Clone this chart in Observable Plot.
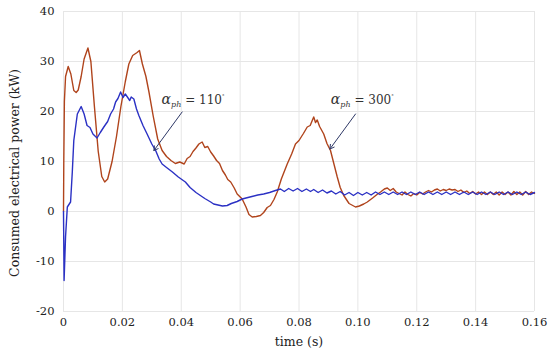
<!DOCTYPE html>
<html>
<head>
<meta charset="utf-8">
<script src="https://cdn.jsdelivr.net/npm/d3@7"></script>
<script src="https://cdn.jsdelivr.net/npm/@observablehq/plot@0.6"></script>
<style>
  html, body { margin: 0; padding: 0; background: #fff; }
  #chart svg, #chart svg text { font-family: "DejaVu Serif", serif !important; }
</style>
</head>
<body>
<div id="chart"></div>
<script>
// ---- Data ----
const timeRed = [0,0.0001,0.0003,0.0007,0.0016,0.0025,0.0035,0.0043,0.005,0.006,0.007,0.0083,0.0093,0.0105,0.0118,0.013,0.014,0.015,0.0165,0.018,0.0195,0.021,0.0222,0.0235,0.025,0.0258,0.0268,0.028,0.029,0.0305,0.032,0.0335,0.035,0.0365,0.038,0.0395,0.041,0.042,0.043,0.044,0.045,0.046,0.0471,0.048,0.049,0.050,0.051,0.052,0.053,0.054,0.055,0.0558,0.0568,0.058,0.059,0.0607,0.062,0.063,0.0641,0.0655,0.0669,0.068,0.0692,0.0703,0.0715,0.0726,0.074,0.076,0.0775,0.0788,0.080,0.0815,0.0828,0.0838,0.0845,0.085,0.0856,0.0862,0.087,0.0884,0.0895,0.0907,0.092,0.093,0.094,0.0952,0.097,0.0992,0.1005,0.102,0.1032,0.105,0.1065,0.1077,0.109,0.110,0.111,0.112,0.113,0.114,0.115,0.116,0.117,0.118,0.119,0.120,0.121,0.122,0.123,0.124,0.125,0.126,0.127,0.128,0.129,0.130,0.131,0.132,0.133,0.134,0.135,0.136,0.137,0.138,0.139,0.140,0.141,0.142,0.143,0.144,0.145,0.146,0.147,0.148,0.149,0.150,0.151,0.152,0.153,0.154,0.155,0.156,0.157,0.158,0.159,0.160];
const powerRed = [0,10,22,27,29,27.5,24.2,23.8,24.3,27,30.5,32.7,30,21,12,7,5.9,6.5,10,15,21,26,29.5,31.2,31.8,32.2,29.5,27,24,19,14.5,12.2,11,10.2,9.6,9.9,9.5,10.6,11,12,12.7,13.5,13.9,12.8,13,11.9,11.1,10.2,9.6,8.2,7.3,6.4,5.9,4.7,3.5,2.5,0.9,-0.6,-1.1,-1.0,-0.8,-0.2,0.8,1.2,2.4,3.9,6.5,9.5,11.5,13.5,14.2,15.6,16.9,17.2,18.2,18.9,17.8,18.3,17,15.5,13.6,12.2,9.2,6.9,4.8,3.2,1.6,0.9,1.1,1.5,1.9,2.7,3.4,3.9,4.5,4.7,4.2,4.6,3.9,3.6,3.3,3.9,3.4,3.1,3.6,3.3,3.8,3.5,3.9,4.2,3.9,4.3,4.5,4.1,4.4,4.2,4.5,4.3,4.4,4.0,4.3,3.8,4.1,3.6,4.0,3.5,3.9,3.4,3.9,3.4,3.9,3.4,3.9,3.3,3.9,3.4,3.9,3.3,4.0,3.4,3.9,3.3,4.0,3.4,3.9,3.6];

const timeBlue = [0,0.0002,0.0007,0.0013,0.0024,0.003,0.0035,0.0047,0.006,0.007,0.008,0.009,0.010,0.0114,0.0125,0.0137,0.015,0.016,0.017,0.0177,0.0185,0.0194,0.0202,0.021,0.0217,0.0225,0.023,0.0239,0.0248,0.0256,0.027,0.0284,0.030,0.0313,0.0325,0.0335,0.035,0.037,0.039,0.0414,0.043,0.045,0.0465,0.048,0.050,0.051,0.0525,0.054,0.0556,0.057,0.059,0.0607,0.062,0.064,0.066,0.068,0.070,0.072,0.0737,0.075,0.0765,0.078,0.0795,0.081,0.0825,0.0839,0.085,0.0865,0.088,0.0895,0.091,0.0925,0.094,0.0955,0.097,0.0985,0.100,0.1015,0.103,0.1045,0.106,0.1075,0.109,0.1105,0.112,0.1135,0.115,0.1165,0.118,0.1195,0.121,0.1225,0.124,0.1255,0.127,0.1285,0.130,0.1315,0.133,0.1345,0.136,0.1375,0.139,0.1405,0.142,0.1435,0.145,0.1465,0.148,0.1495,0.151,0.1525,0.154,0.1555,0.157,0.1585,0.160];
const powerBlue = [0,-13.8,-5,0.9,1.9,8,14.2,19.5,21,19.5,17.2,16.8,15.5,14.7,15.8,16.9,18,19.5,20.5,21.9,22.6,23.9,22.8,23.5,22.9,22.2,22.9,22.5,20.5,19.2,17.2,15.5,13.5,12.2,10.5,9.5,8.8,7.9,6.9,5.9,4.8,3.8,3.2,2.6,1.9,1.5,1.3,1.1,1.2,1.6,2.0,2.5,2.7,3.0,3.3,3.5,3.8,4.2,4.5,4.0,4.6,4.1,4.6,4.0,4.5,4.0,4.4,3.8,4.3,3.7,4.1,3.5,4.0,3.3,3.8,3.2,3.8,3.3,3.8,3.3,3.9,3.4,3.9,3.4,3.9,3.4,3.9,3.4,3.9,3.4,3.9,3.4,3.9,3.4,3.9,3.4,3.9,3.4,3.9,3.4,3.9,3.4,3.9,3.4,3.9,3.4,3.9,3.4,3.9,3.4,3.9,3.4,3.9,3.4,3.9,3.4,3.8];

const xTicks = [0,0.02,0.04,0.06,0.08,0.10,0.12,0.14,0.16];
const xTickLabels = ["0","0.02","0.04","0.06","0.08","0.10","0.12","0.14","0.16"];
const yTicks = [-20,-10,0,10,20,30,40];
const yTickLabels = ["-20","-10","0","10","20","30","40"];

const annLabels = ["αph = 110°", "αph = 300°"];
const annTextX = [0.0440, 0.1015];
const annTextY = [22.2, 22.2];
const annArrowX1 = [0.0403, 0.0992];
const annArrowY1 = [19.9, 19.5];
const annArrowX2 = [0.0307, 0.0905];
const annArrowY2 = [12.2, 12.5];

const xLabel = "time (s)";
const yLabel = "Consumed electrical power (kW)";

// ---- Tables built from arrays ----
const red = timeRed.map((t, i) => ({t, p: powerRed[i]}));
const blue = timeBlue.map((t, i) => ({t, p: powerBlue[i]}));
const ann = annLabels.map((label, i) => ({
  label, tx: annTextX[i], ty: annTextY[i],
  x1: annArrowX1[i], y1: annArrowY1[i], x2: annArrowX2[i], y2: annArrowY2[i]
}));

const W = 550, H = 350, ML = 63, MR = 16, MT = 11, MB = 39;
const FONT = "DejaVu Serif";

const plot = Plot.plot({
  width: W,
  height: H,
  marginLeft: ML,
  marginRight: MR,
  marginTop: MT,
  marginBottom: MB,
  style: {fontFamily: FONT, fontSize: "12px", color: "#222", background: "#fff"},
  x: {domain: [0, 0.16], label: null},
  y: {domain: [-20, 40], label: null},
  marks: [
    Plot.gridX(xTicks, {stroke: "#e6e6e6", strokeOpacity: 1}),
    Plot.gridY(yTicks, {stroke: "#e6e6e6", strokeOpacity: 1}),
    Plot.axisX({ticks: xTicks, tickFormat: (d) => xTickLabels[xTicks.indexOf(d)], tickSize: 0, tickPadding: 6, label: null, fontSize: 11.5, fontFamily: FONT}),
    Plot.axisY({ticks: yTicks, tickFormat: (d) => yTickLabels[yTicks.indexOf(d)], tickSize: 0, tickPadding: 9, label: null, fontSize: 11.5, fontFamily: FONT}),
    Plot.line(red, {x: "t", y: "p", stroke: "#b0441c", strokeWidth: 1.4}),
    Plot.line(blue, {x: "t", y: "p", stroke: "#2b31c4", strokeWidth: 1.4}),
    Plot.arrow(ann, {x1: "x1", y1: "y1", x2: "x2", y2: "y2", stroke: "#2e3866", strokeWidth: 1, headLength: 7, bend: 0}),
    Plot.text(ann, {x: "tx", y: "ty", text: "label", fontSize: 12, fill: "#333", fontFamily: FONT}),
    Plot.text([xLabel], {frameAnchor: "bottom", lineAnchor: "bottom", dy: 34, fontSize: 12.5, fill: "#222", fontFamily: FONT}),
    Plot.text([yLabel], {frameAnchor: "left", fontSize: 12.5, fill: "#222", fontFamily: FONT})
  ]
});

const svg = d3.select(plot);

// rich formatting for the α_ph annotations (subscript + superscript degree)
svg.selectAll("text").filter(function() {
  return this.textContent.startsWith("αph");
}).each(function() {
  const txt = this.textContent;
  const num = txt.replace("αph = ", "").replace("°", "");
  const sel = d3.select(this);
  sel.text(null);
  sel.append("tspan").attr("font-style", "italic").attr("font-size", 14).text("α");
  sel.append("tspan").attr("font-style", "italic").attr("font-size", 8).attr("dy", 3).text("ph");
  sel.append("tspan").attr("dy", -3).text(" = " + num);
  sel.append("tspan").attr("font-size", 5).attr("dy", -6).text("°");
});

// place the rotated y-axis title beside the axis
svg.selectAll("text").filter(function() {
  return this.textContent === yLabel;
}).each(function() {
  const t = d3.select(this);
  t.attr("x", null).attr("y", null).attr("dy", "0.32em")
   .attr("text-anchor", "middle")
   .attr("transform", `translate(${ML - 48},${MT + (H - MT - MB) / 2 + 12}) rotate(-90)`);
  d3.select(this.parentNode).attr("transform", null);
});

document.getElementById("chart").appendChild(plot);
</script>
</body>
</html>
